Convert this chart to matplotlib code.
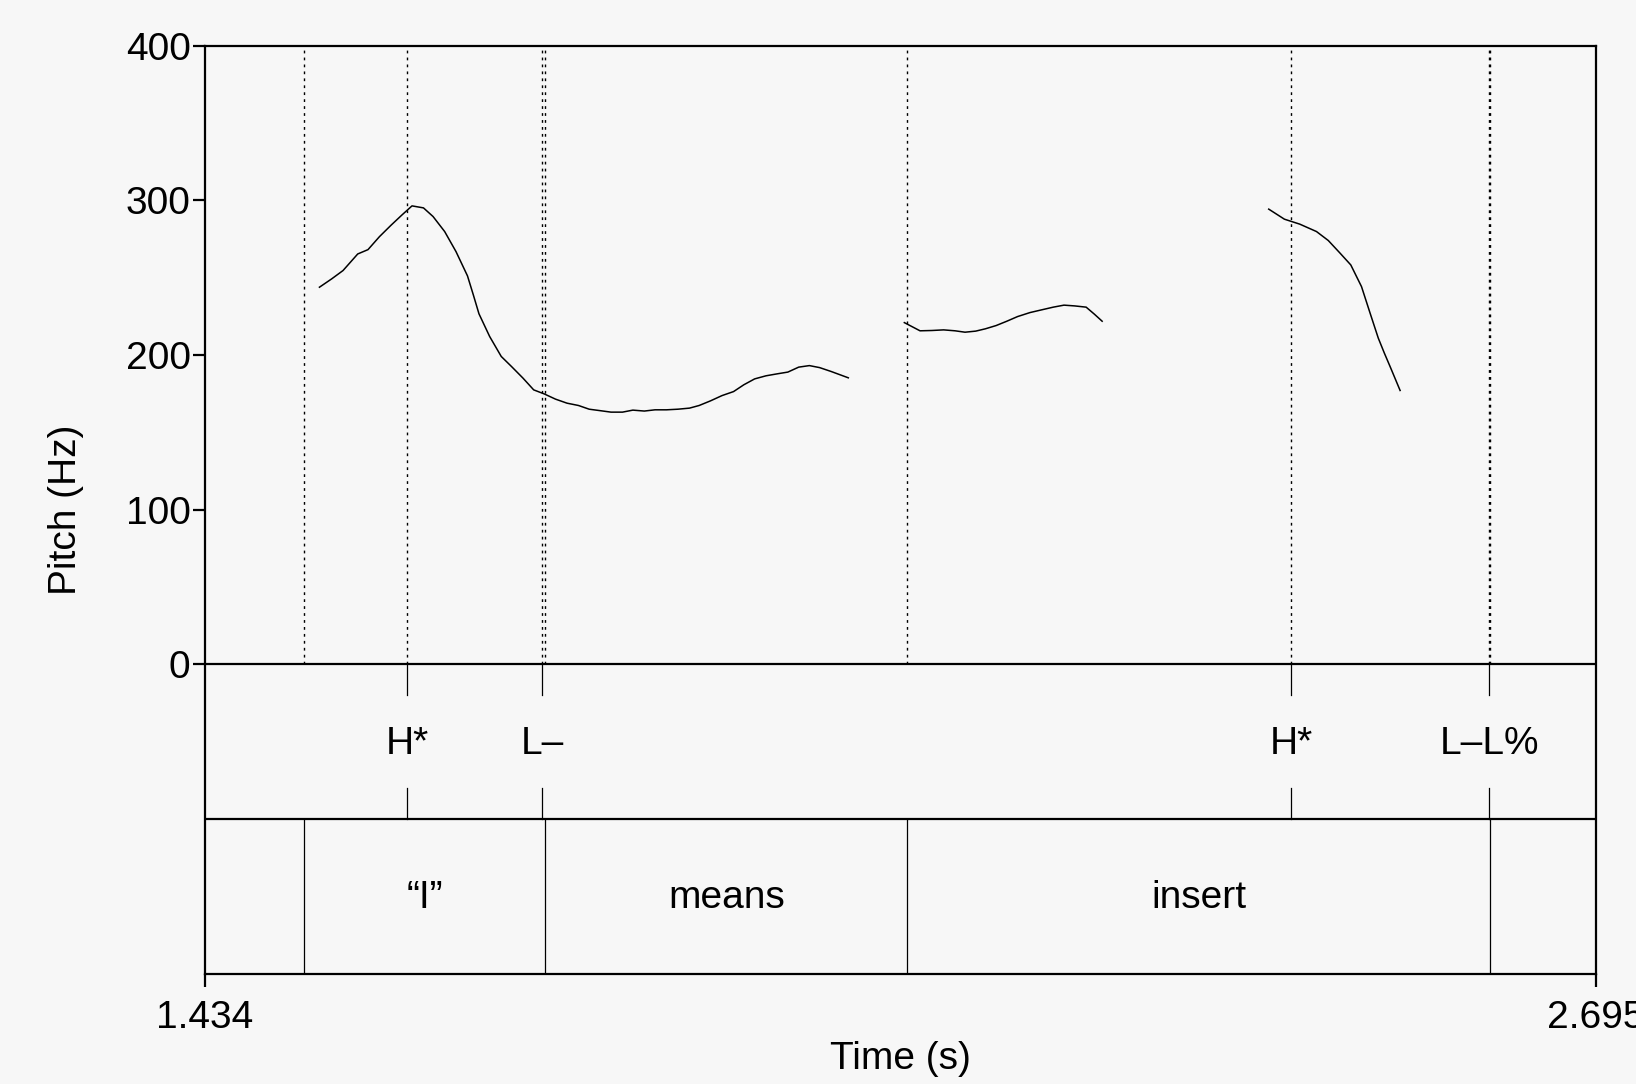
import matplotlib
matplotlib.use("Agg")
import matplotlib.pyplot as plt

plt.rcParams['font.family'] = ['Liberation Sans', 'DejaVu Sans']

BG = '#f7f7f7'

# Pitch contour segments (time s, pitch Hz)
seg1_t = [1.5382, 1.5493, 1.5596, 1.5729, 1.5822, 1.5926, 1.6031, 1.6128, 1.6221, 1.6325,
          1.6412, 1.6517, 1.6620, 1.6724, 1.6777, 1.6828, 1.6925, 1.7030, 1.7123, 1.7227,
          1.7324, 1.7419, 1.7522, 1.7626, 1.7730, 1.7827, 1.7922, 1.8025, 1.8129, 1.8223,
          1.8327, 1.8424, 1.8528, 1.8632, 1.8737, 1.8824, 1.8927, 1.9031, 1.9136, 1.9229,
          1.9327, 1.9430, 1.9534, 1.9628, 1.9726, 1.9823, 1.9916, 2.0020, 2.0176]
seg1_f = [243.9, 249.3, 254.7, 265.4, 268.2, 276.6, 284.0, 290.5, 296.5, 295.2,
          289.6, 279.9, 266.9, 251.2, 238.9, 226.7, 212.0, 199.1, 192.6, 185.1,
          177.5, 174.9, 171.5, 168.9, 167.4, 165.0, 164.1, 163.1, 163.1, 164.4,
          163.8, 164.6, 164.6, 165.0, 165.7, 167.4, 170.4, 173.8, 176.4, 180.8,
          184.6, 186.6, 187.9, 189.0, 192.2, 193.2, 191.9, 189.4, 185.3]

seg2_t = [2.0684, 2.0826, 2.0933, 2.1040, 2.1144, 2.1234, 2.1331, 2.1419, 2.1516, 2.1613,
          2.1710, 2.1823, 2.1937, 2.2034, 2.2131, 2.2228, 2.2332, 2.2406, 2.2477]
seg2_f = [221.0, 215.7, 215.9, 216.3, 215.7, 214.8, 215.5, 217.0, 219.1, 221.9,
          224.9, 227.5, 229.4, 231.0, 232.3, 231.8, 231.0, 226.5, 221.9]

seg3_t = [2.3987, 2.4129, 2.4268, 2.4420, 2.4527, 2.4634, 2.4731, 2.4828, 2.4906, 2.4980,
          2.5035, 2.5093, 2.5178]
seg3_f = [294.4, 287.9, 284.7, 279.9, 274.1, 265.9, 258.3, 244.3, 227.1, 211.0,
          201.3, 191.6, 177.1]

# Tones tier (points)
tone_times = [1.618, 1.740, 2.419, 2.5985]
tone_labels = ["H*", "L\u2013", "H*", "L\u2013L%"]

# Words tier (intervals)
word_bounds = [1.524, 1.743, 2.071, 2.599]
word_labels = ["", "\u201cI\u201d", "means", "insert", ""]

t_start, t_end = 1.434, 2.695
pitch_ticks = [0, 100, 200, 300, 400]
pitch_max = 400
tier_h = 100  # each tier drawn with the height of 100 Hz

fig = plt.figure(figsize=(16.36, 10.84), dpi=100, facecolor=BG)
ax = fig.add_axes([0.125, 0.1019, 0.8503, 0.8558])
ax.set_facecolor(BG)
ax.set_xlim(t_start, t_end)
ax.set_ylim(-2 * tier_h, pitch_max)

FS = 28
lw_frame = 1.6
for sp in ax.spines.values():
    sp.set_linewidth(lw_frame)

ax.set_yticks(pitch_ticks)
ax.set_yticklabels([str(v) for v in pitch_ticks], fontsize=FS)
ax.set_xticks([t_start, t_end])
ax.set_xticklabels(["%.3f" % t_start, "%.3f" % t_end], fontsize=FS)
ax.tick_params(axis='y', length=9, width=lw_frame, pad=1)
ax.tick_params(axis='x', length=9, width=lw_frame, pad=10)
ax.set_xlabel("Time (s)", fontsize=FS, labelpad=4)
ax.set_ylabel("Pitch (Hz)", fontsize=FS, labelpad=30)

# tier separators
ax.axhline(0, color='black', lw=lw_frame)
ax.axhline(-tier_h, color='black', lw=lw_frame)

# dotted lines in pitch panel
for t in sorted(set(word_bounds + tone_times)):
    ax.plot([t, t], [0, pitch_max], color='black', lw=1.0, linestyle=(0, (2, 3)))

# pitch contour
for tt, ff in [(seg1_t, seg1_f), (seg2_t, seg2_f), (seg3_t, seg3_f)]:
    ax.plot(tt, ff, color='black', lw=1.1)

# tones tier
for t, lab in zip(tone_times, tone_labels):
    ax.plot([t, t], [0, -0.2 * tier_h], color='black', lw=0.9)
    ax.plot([t, t], [-0.8 * tier_h, -tier_h], color='black', lw=0.9)
    ax.text(t, -0.5 * tier_h - 1.3, lab, ha='center', va='center', fontsize=FS)

# words tier
for t in word_bounds:
    ax.plot([t, t], [-tier_h, -2 * tier_h], color='black', lw=0.9)
edges = [t_start] + word_bounds + [t_end]
for i, lab in enumerate(word_labels):
    if lab:
        ax.text((edges[i] + edges[i + 1]) / 2, -1.5 * tier_h - 1.3, lab,
                ha='center', va='center', fontsize=FS)

fig.savefig("out.png", dpi=100, facecolor=BG)
